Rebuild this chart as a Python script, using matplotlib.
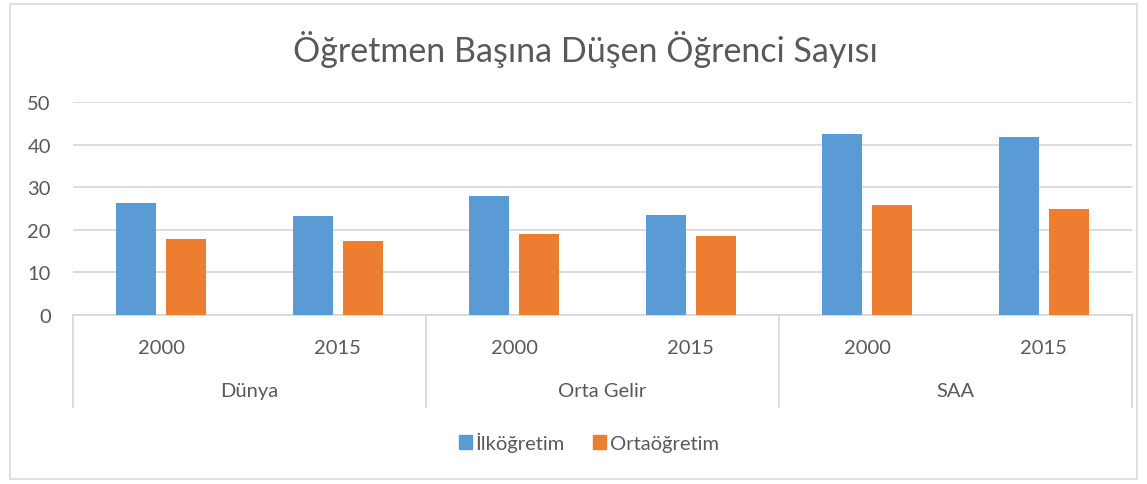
import matplotlib
matplotlib.use("Agg")
import matplotlib.pyplot as plt
import numpy as np
from matplotlib.patches import Rectangle, Patch
from matplotlib.lines import Line2D

# data
groups = ["Dünya", "Orta Gelir", "SAA"]
years = ["2000", "2015"]
ilk = [26.2, 23.3, 27.9, 23.5, 42.5, 41.7]
orta = [17.8, 17.4, 19.1, 18.5, 25.8, 24.9]

blue = "#5B9BD5"
orange = "#ED7D31"
grid_c = "#D9D9D9"
txt_c = "#595959"

plt.rcParams['font.family'] = ['Lato', 'DejaVu Sans']

W, H = 1147, 485
fig = plt.figure(figsize=(W / 100, H / 100), dpi=100)

# outer chart border
fig.patches.append(Rectangle((10 / W, 1 - 480 / H), 1127 / W, 475 / H, transform=fig.transFigure,
                             fill=False, edgecolor=grid_c, lw=1.2))

ax = fig.add_axes([73 / W, 1 - 316 / H, (1132 - 73) / W, (316 - 103) / H])
n = len(ilk)
x = np.arange(n) + 0.5
bw = 0.227
off = 0.142
ax.bar(x - off, ilk, bw, color=blue, zorder=3)
ax.bar(x + off, orta, bw, color=orange, zorder=3)

ax.set_xlim(0, n)
ax.set_ylim(0, 50)
ax.set_yticks(range(0, 51, 10))
ax.yaxis.grid(True, color=grid_c, lw=1.3)
ax.set_axisbelow(True)
for s in ["top", "right", "left"]:
    ax.spines[s].set_visible(False)
ax.spines["bottom"].set_color(grid_c)
ax.spines["bottom"].set_linewidth(1.3)
ax.tick_params(axis="y", length=0, labelsize=14.5, labelcolor=txt_c, pad=16)
ax.set_xticks([])

# multi-level category axis
tr = ax.get_xaxis_transform()
y_year = -(348 - 316) / 213
y_grp = -(392 - 316) / 213
y_bot = -(408 - 316) / 213
for i in range(n):
    ax.text(x[i], y_year, years[i % 2], transform=tr, ha="center", va="center",
            fontsize=14.5, color=txt_c)
for g, name in enumerate(groups):
    ax.text(2 * g + 1, y_grp, name, transform=tr, ha="center", va="center",
            fontsize=14.5, color=txt_c)
for b in range(0, n + 1, 2):
    ax.add_line(Line2D([b, b], [0, y_bot], transform=tr, color=grid_c, lw=1.3, clip_on=False))

fig.text(585 / W, 1 - 50 / H, "Öğretmen Başına Düşen Öğrenci Sayısı", ha="center", va="center",
         fontsize=24.5, color=txt_c)

handles = [Patch(color=blue, label="İlköğretim"), Patch(color=orange, label="Ortaöğretim")]
fig.legend(handles=handles, loc="center", bbox_to_anchor=(589 / W, 1 - 443 / H), ncol=2,
           frameon=False, fontsize=14.5, labelcolor=txt_c, handlelength=0.65, handleheight=0.75,
           handletextpad=0.2, columnspacing=1.4)

fig.savefig("out.png", dpi=100)
